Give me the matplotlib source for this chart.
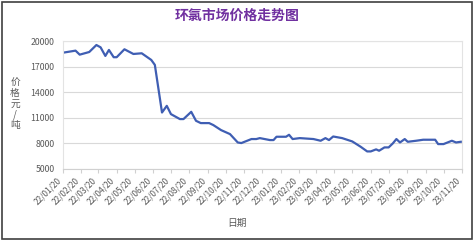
import matplotlib
matplotlib.use("Agg")
import matplotlib.pyplot as plt
import matplotlib.dates as mdates
from matplotlib.patches import Rectangle
import pandas as pd

plt.rcParams['font.family'] = ['Noto Sans CJK SC', 'DejaVu Sans']

dates = ["2022-01-20", "2022-02-10", "2022-02-17", "2022-03-05", "2022-03-17", "2022-03-24",
         "2022-04-01", "2022-04-07", "2022-04-15", "2022-04-20", "2022-05-03", "2022-05-18",
         "2022-06-01", "2022-06-09", "2022-06-17", "2022-06-23", "2022-07-05", "2022-07-13",
         "2022-07-20", "2022-08-04", "2022-08-10", "2022-08-23", "2022-08-31", "2022-09-08",
         "2022-09-22", "2022-09-29", "2022-10-12", "2022-10-27", "2022-11-09", "2022-11-15",
         "2022-12-02", "2022-12-10", "2022-12-16", "2023-01-02", "2023-01-08", "2023-01-13",
         "2023-01-29", "2023-02-03", "2023-02-09", "2023-02-21", "2023-03-16", "2023-03-28",
         "2023-04-05", "2023-04-11", "2023-04-18", "2023-05-03", "2023-05-20", "2023-06-03",
         "2023-06-14", "2023-06-20", "2023-06-29", "2023-07-04", "2023-07-13", "2023-07-20",
         "2023-07-27", "2023-08-02", "2023-08-08", "2023-08-16", "2023-08-21", "2023-09-04",
         "2023-09-16", "2023-10-06", "2023-10-11", "2023-10-20", "2023-11-03", "2023-11-10",
         "2023-11-18"]
prices = [18630, 18870, 18400, 18710, 19530, 19260,
          18250, 18950, 18100, 18100, 19030, 18480,
          18560, 18170, 17780, 17200, 11620, 12400,
          11430, 10850, 10850, 11700, 10650, 10380,
          10380, 10150, 9560, 9090, 8110, 8040,
          8510, 8510, 8620, 8390, 8390, 8780,
          8780, 9010, 8510, 8620, 8510, 8310,
          8620, 8390, 8810, 8620, 8230, 7610,
          7060, 7060, 7300, 7140, 7530, 7530,
          8000, 8510, 8110, 8510, 8190, 8310,
          8430, 8430, 7920, 7920, 8310, 8110,
          8190]
tick_dates = pd.date_range("2022-01-01", "2023-11-01", freq="MS") + pd.Timedelta(days=19)
y_ticks = [5000, 8000, 11000, 14000, 17000, 20000]

x = pd.to_datetime(dates)

fig = plt.figure(figsize=(4.74, 2.41), dpi=100)
ax = fig.add_axes([63 / 474, 1 - 169 / 241, (462 - 63) / 474, (169 - 41) / 241])

ax.plot(x, prices, color="#3F5EB3", linewidth=1.6)

ax.set_xlim(tick_dates[0], tick_dates[-1])
ax.set_ylim(5000, 20000)
ax.set_yticks(y_ticks)
ax.set_xticks(tick_dates)
ax.xaxis.set_major_formatter(mdates.DateFormatter("%y/%m/%d"))
ax.grid(axis="y", color="#D9D9D9", linewidth=0.8)
ax.set_axisbelow(True)
for s in ax.spines.values():
    s.set_color("#E3E3E3")
    s.set_linewidth(0.8)
ax.spines["bottom"].set_color("#D0D0D0")
ax.tick_params(axis="y", length=0, labelsize=6.3, labelcolor="#595959", pad=6)
ax.tick_params(axis="x", length=3, color="#D0D0D0", labelsize=6, labelcolor="#595959", pad=2)
for lab in ax.get_xticklabels():
    lab.set_rotation(45)
    lab.set_ha("right")
    lab.set_va("top")

fig.text(0.5, 1 - 16 / 241, "环氯市场价格走势图", ha="center", va="center",
         fontsize=10, fontweight="bold", color="#7030A0")
fig.text(15 / 474, 1 - 104 / 241, "价\n格\n元\n/\n吨", ha="center", va="center",
         fontsize=7, color="#595959", linespacing=1.05)
fig.text(237 / 474, 1 - 223 / 241, "日期", ha="center", va="center",
         fontsize=7, color="#595959")

fig.patches.append(Rectangle((2 / 474, 2 / 241), 470 / 474, 237 / 241, transform=fig.transFigure,
                             fill=False, edgecolor="#404040", linewidth=1.2))

fig.savefig("out.png", dpi=100)
